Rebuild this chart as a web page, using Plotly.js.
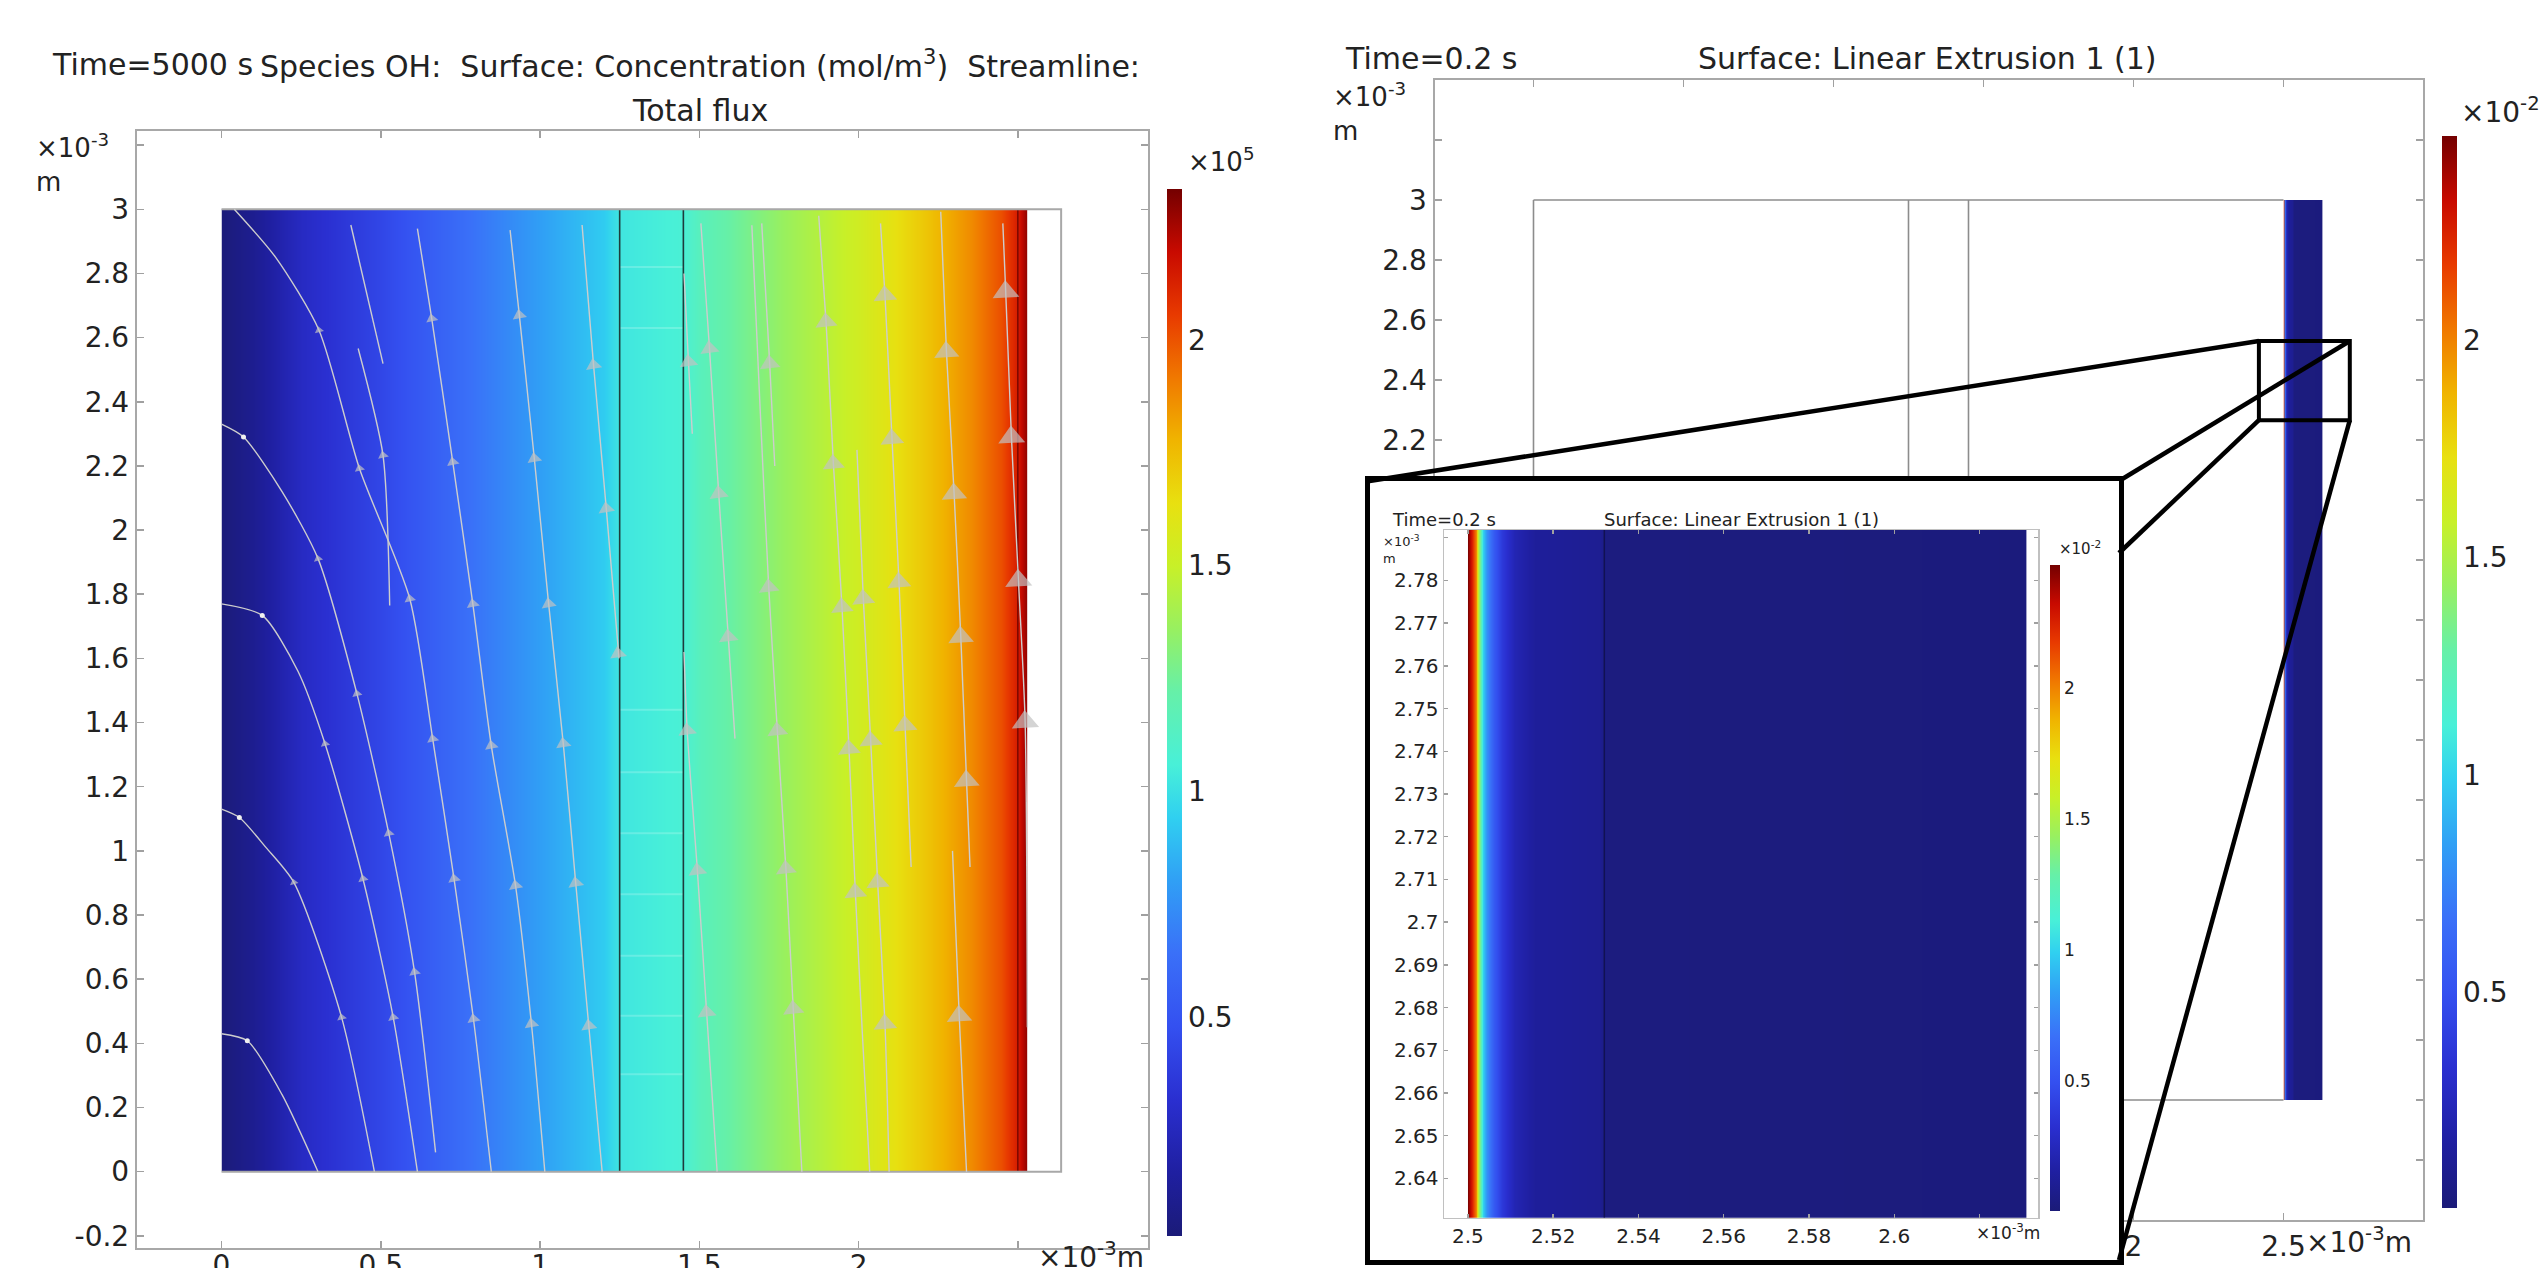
<!DOCTYPE html>
<html><head><meta charset="utf-8">
<script src="https://cdn.plot.ly/plotly-3.0.1.min.js"></script>
<style>html,body{margin:0;padding:0;background:#fff;overflow:hidden}#chart{width:2541px;height:1268px}</style>
</head><body><div id="chart"></div>
<script>
// ================= DATA =================
// Left plot: OH concentration profile across the cell (x in 1e-3 m, c in 1e5 mol/m^3)
const concX  = [0, 0.1, 0.25, 0.5, 0.75, 1.0, 1.2, 1.25, 1.45, 1.5, 1.75, 2.0, 2.2, 2.35, 2.45, 2.5, 2.53];
const concOH = [0.02, 0.10, 0.27, 0.43, 0.62, 0.80, 0.93, 1.02, 1.07, 1.15, 1.35, 1.53, 1.71, 1.87, 2.01, 2.14, 2.30];
const concY  = [0, 3];

// Streamlines of total flux (x, y in 1e-3 m)
const streamX = [
 [0.04, 0.17, 0.306, 0.433, 0.591, 0.663, 0.730, 0.791, 0.847],
 [0.406, 0.507],
 [0.429, 0.507, 0.528],
 [0.615, 0.660, 0.726, 0.789, 0.847, 0.923, 0.973, 1.015],
 [0.906, 0.935, 0.982, 1.027, 1.073, 1.112, 1.153, 1.195],
 [1.132, 1.168, 1.208, 1.248],
 [0.0, 0.069, 0.19, 0.303, 0.425, 0.525, 0.606, 0.672],
 [0.0, 0.128, 0.24, 0.325, 0.444, 0.539, 0.615],
 [0.0, 0.056, 0.14, 0.227, 0.377, 0.48],
 [0.0, 0.081, 0.19, 0.303],
 [1.452, 1.462, 1.494, 1.523, 1.556],
 [1.452, 1.466, 1.478],
 [1.505, 1.532, 1.561, 1.591, 1.612],
 [1.665, 1.69, 1.718, 1.745, 1.772, 1.795, 1.822],
 [1.696, 1.721, 1.737],
 [1.875, 1.898, 1.921, 1.948, 1.970, 1.990, 2.012, 2.035],
 [1.995, 2.015, 2.038, 2.060, 2.083, 2.096],
 [2.069, 2.083, 2.105, 2.127, 2.146, 2.165],
 [2.258, 2.276, 2.300, 2.321, 2.339, 2.350],
 [2.295, 2.316, 2.339],
 [2.453, 2.462, 2.480, 2.502, 2.523, 2.530]
];
const streamY = [
 [3.0, 2.85, 2.623, 2.192, 1.786, 1.349, 0.913, 0.476, 0.0],
 [2.951, 2.519],
 [2.566, 2.233, 1.765],
 [2.94, 2.659, 2.212, 1.770, 1.328, 0.892, 0.461, 0.0],
 [2.935, 2.670, 2.223, 1.770, 1.334, 0.900, 0.455, 0.0],
 [2.951, 2.514, 2.067, 1.60],
 [2.33, 2.29, 2.12, 1.911, 1.490, 1.055, 0.622, 0.06],
 [1.77, 1.734, 1.56, 1.334, 0.913, 0.481, 0.0],
 [1.13, 1.104, 1.01, 0.902, 0.481, 0.0],
 [0.43, 0.408, 0.24, 0.0],
 [1.62, 1.375, 0.939, 0.497, 0.0],
 [2.80, 2.524, 2.30],
 [2.956, 2.566, 2.114, 1.667, 1.35],
 [2.95, 2.4, 1.822, 1.375, 0.944, 0.507, 0.0],
 [2.956, 2.519, 2.2],
 [2.98, 2.649, 2.207, 1.760, 1.318, 0.871, 0.43, 0.0],
 [2.25, 1.786, 1.344, 0.902, 0.461, 0.0],
 [2.956, 2.732, 2.285, 1.838, 1.391, 0.95],
 [2.992, 2.556, 2.114, 1.667, 1.219, 0.95],
 [1.0, 0.486, 0.0],
 [2.956, 2.743, 2.290, 1.843, 1.402, 0.45]
];
// Arrow heads on streamlines
const arrowX = [0.306,0.660,0.935,1.168,1.466,1.532,1.721,1.898,2.083,2.276,2.462,
 0.433,0.507,0.726,0.982,1.208,1.561,1.921,2.105,2.300,2.480,
 0.303,0.591,0.789,1.027,1.245,1.591,1.718,1.948,2.015,2.127,2.321,2.502,
 0.425,0.325,0.663,0.847,1.073,1.462,1.745,1.970,2.038,2.146,2.523,2.339,
 0.525,0.227,0.444,0.730,0.923,1.112,1.494,1.772,1.990,2.060,
 0.606,0.377,0.539,0.791,0.973,1.153,1.523,1.795,2.083,2.316];
const arrowY = [2.623,2.659,2.670,2.514,2.524,2.566,2.519,2.649,2.732,2.556,2.743,
 2.192,2.233,2.212,2.223,2.067,2.114,2.207,2.285,2.114,2.290,
 1.911,1.786,1.770,1.770,1.615,1.667,1.822,1.760,1.786,1.838,1.667,1.843,
 1.490,1.334,1.349,1.328,1.334,1.375,1.375,1.318,1.344,1.391,1.402,1.219,
 1.055,0.902,0.913,0.913,0.892,0.900,0.939,0.944,0.871,0.902,
 0.622,0.481,0.481,0.476,0.461,0.455,0.497,0.507,0.461,0.486];
// Streamline seed points on the left wall
const seedX = [0.069, 0.128, 0.056, 0.081];
const seedY = [2.29, 1.734, 1.104, 0.408];
// Faint flux marks inside the membrane (1.25 - 1.45)
const membraneY = [2.82, 2.63, 1.44, 1.245, 1.055, 0.865, 0.673, 0.486, 0.304];
const membraneX = [1.25, 1.45];
const interfaceX = [1.25, 1.45];

// Right plot: Linear Extrusion 1 (1) profile (x in 1e-3 m, value in 1e-2)
const extX = [2.5, 2.501, 2.5018, 2.5024, 2.503, 2.5036, 2.5045, 2.506, 2.508, 2.511, 2.516, 2.531, 2.5325, 2.631];
const extV = [2.45, 2.25, 2.0, 1.55, 1.22, 1.0, 0.78, 0.55, 0.38, 0.22, 0.13, 0.10, 0.03, 0.02];
const extYMain  = [0, 3];
const extYInset = [2.6, 2.8];

// Tick labels
const leftXTicks  = [0, 0.5, 1, 1.5, 2, 2.5];
const leftXText   = ['0', '0.5', '1', '1.5', '2', ''];
const yTicks      = [-0.2, 0, 0.2, 0.4, 0.6, 0.8, 1, 1.2, 1.4, 1.6, 1.8, 2, 2.2, 2.4, 2.6, 2.8, 3, 3.2];
const yText       = ['-0.2','0','0.2','0.4','0.6','0.8','1','1.2','1.4','1.6','1.8','2','2.2','2.4','2.6','2.8','3',''];
// right plot: labels hidden behind the inset are left blank
const rightYText  = ['','','','','','','','','','','','','2.2','2.4','2.6','2.8','3',''];
const rightXTicks = [0, 0.5, 1, 1.5, 2, 2.5];
const rightXText  = ['', '', '', '', '2', '2.5'];
const insetXTicks = [2.5, 2.52, 2.54, 2.56, 2.58, 2.6, 2.62];
const insetXText  = ['2.5', '2.52', '2.54', '2.56', '2.58', '2.6', ''];
const insetYTicks = [2.64, 2.65, 2.66, 2.67, 2.68, 2.69, 2.7, 2.71, 2.72, 2.73, 2.74, 2.75, 2.76, 2.77, 2.78, 2.79];
const insetYText  = ['2.64','2.65','2.66','2.67','2.68','2.69','2.7','2.71','2.72','2.73','2.74','2.75','2.76','2.77','2.78',''];
const cbTicks = [0.5, 1, 1.5, 2];

// ================= STYLE / LAYOUT =================
const W = 2541, H = 1268;
const px = v => v / W;
const py = v => 1 - v / H;
const FONT = 'DejaVu Sans';

const rainbow = [
 [0.00,'#1b1b78'],[0.06,'#1f1fa0'],[0.13,'#2a2fd0'],[0.20,'#3450f0'],[0.27,'#3a70f8'],
 [0.34,'#30a0f5'],[0.40,'#30d0f0'],[0.45,'#48f0d8'],[0.52,'#66f0a8'],[0.58,'#98f060'],
 [0.64,'#c8f028'],[0.70,'#e8e010'],[0.76,'#f0b400'],[0.82,'#f07800'],[0.88,'#e83a00'],
 [0.94,'#c80a00'],[1.00,'#740000']
];

function joinLines(xs, ys) {
  const X = [], Y = [];
  xs.forEach((arr, i) => { arr.forEach((v, j) => { X.push(v); Y.push(ys[i][j]); }); X.push(null); Y.push(null); });
  return {X, Y};
}
const sl = joinLines(streamX, streamY);

const memX = [], memY = [];
membraneY.forEach(y => { memX.push(membraneX[0], membraneX[1], null); memY.push(y, y, null); });

const cbBase = (x, ytop, len, thick, size) => ({
  x: px(x), xanchor: 'left', y: py(ytop), yanchor: 'top',
  len: len, lenmode: 'pixels', thickness: thick, thicknessmode: 'pixels',
  outlinewidth: 0, xpad: 0, ypad: 0, tickvals: cbTicks, ticks: '',
  tickfont: {family: FONT, size: size, color: '#222'}
});

const traces = [];
// ---- left panel ----
traces.push({type: 'contour', x: concX, y: concY, z: concY.map(() => concOH),
  xaxis: 'x', yaxis: 'y', colorscale: rainbow, zmin: 0.014, zmax: 2.333, zauto: false,
  contours: {coloring: 'heatmap', showlines: false}, line: {width: 0}, hoverinfo: 'skip',
  colorbar: cbBase(1167, 189.5, 1046.5, 15, 28)});
traces.push({type: 'scatter', mode: 'lines', x: memX, y: memY, xaxis: 'x', yaxis: 'y',
  line: {color: 'rgba(255,255,255,0.2)', width: 2}, hoverinfo: 'skip'});
// geometry
traces.push({type: 'scatter', mode: 'lines', xaxis: 'x', yaxis: 'y', hoverinfo: 'skip',
  x: [interfaceX[0], interfaceX[0], null, interfaceX[1], interfaceX[1]], y: [0, 3, null, 0, 3],
  line: {color: '#1e3c3c', width: 1.6}});
traces.push({type: 'scatter', mode: 'lines', xaxis: 'x', yaxis: 'y', hoverinfo: 'skip',
  x: [2.5, 2.5], y: [0, 3], line: {color: 'rgba(90,0,0,0.7)', width: 1.6}});
traces.push({type: 'scatter', mode: 'lines', xaxis: 'x', yaxis: 'y', hoverinfo: 'skip',
  x: [0, 2.636, 2.636, 0], y: [0, 0, 3, 3], line: {color: '#a8a8a8', width: 2}});
// streamlines
traces.push({type: 'scatter', mode: 'lines', x: sl.X, y: sl.Y, xaxis: 'x', yaxis: 'y',
  line: {color: '#cdcdcd', width: 1.4, shape: 'spline', smoothing: 0.7}, connectgaps: false, hoverinfo: 'skip'});
traces.push({type: 'scatter', mode: 'markers', x: arrowX, y: arrowY, xaxis: 'x', yaxis: 'y', hoverinfo: 'skip',
  marker: {symbol: 'triangle-up', color: '#c2c2c2', line: {width: 0},
    size: arrowX.map(x => 6 + 7 * x), angle: arrowX.map(x => -Math.max(3, 15 - 5 * x))}});
traces.push({type: 'scatter', mode: 'markers', x: seedX, y: seedY, xaxis: 'x', yaxis: 'y', hoverinfo: 'skip',
  marker: {size: 5, color: '#f0f0f0'}});

// ---- right panel ----
traces.push({type: 'contour', x: extX, y: extYMain, z: extYMain.map(() => extV),
  xaxis: 'x2', yaxis: 'y2', colorscale: rainbow, zmin: 0.004, zmax: 2.47, zauto: false,
  contours: {coloring: 'heatmap', showlines: false}, line: {width: 0}, hoverinfo: 'skip',
  colorbar: cbBase(2441.7, 136, 1072, 15, 28)});
traces.push({type: 'scatter', mode: 'lines', xaxis: 'x2', yaxis: 'y2', hoverinfo: 'skip',
  x: [0, 2.5, null, 0, 0, null, interfaceX[0], interfaceX[0], null, interfaceX[1], interfaceX[1], null, 0, 2.5],
  y: [3, 3, null, 0, 3, null, 0, 3, null, 0, 3, null, 0, 0],
  line: {color: '#8c8c8c', width: 1.6}});

// ---- inset: white card ----
traces.push({type: 'scatter', mode: 'lines', xaxis: 'x3', yaxis: 'y3', hoverinfo: 'skip',
  x: [-0.1, 1.1, 1.1, -0.1, -0.1], y: [-0.1, -0.1, 1.1, 1.1, -0.1], fill: 'toself',
  fillcolor: '#ffffff', line: {width: 0}});
// ---- inset plot ----
traces.push({type: 'contour', x: extX, y: extYInset, z: extYInset.map(() => extV),
  xaxis: 'x4', yaxis: 'y4', colorscale: rainbow, zmin: 0.004, zmax: 2.47, zauto: false,
  contours: {coloring: 'heatmap', showlines: false}, line: {width: 0}, hoverinfo: 'skip',
  colorbar: cbBase(2050.3, 565.4, 646, 10, 17)});
traces.push({type: 'scatter', mode: 'lines', xaxis: 'x4', yaxis: 'y4', hoverinfo: 'skip',
  x: [extX[12] - 0.0005, extX[12] - 0.0005], y: extYInset, line: {color: 'rgba(10,10,50,0.6)', width: 1.5}});

const axBase = (size) => ({
  showgrid: false, zeroline: false, showline: true, linecolor: '#a8a8a8', linewidth: 2,
  mirror: 'ticks', ticks: 'inside', ticklen: 7, tickcolor: '#a0a0a0', tickwidth: 1.5,
  tickfont: {family: FONT, size: size, color: '#222'}, fixedrange: true
});

const layout = {
  width: W, height: H, margin: {l: 0, r: 0, t: 0, b: 0},
  paper_bgcolor: '#ffffff', plot_bgcolor: 'rgba(0,0,0,0)', showlegend: false,
  font: {family: FONT, color: '#222'},
  xaxis: Object.assign(axBase(28), {domain: [px(136.8), px(1148.4)], range: [-0.266, 2.910], anchor: 'y',
    tickmode: 'array', tickvals: leftXTicks, ticktext: leftXText, ticklabelstandoff: -8}),
  yaxis: Object.assign(axBase(28), {domain: [py(1247.7), py(131)], range: [-0.237, 3.244], anchor: 'x',
    tickmode: 'array', tickvals: yTicks, ticktext: yText}),
  xaxis2: Object.assign(axBase(28), {domain: [px(1434.5), px(2423)], range: [-0.33, 2.965], anchor: 'y2',
    tickmode: 'array', tickvals: rightXTicks, ticktext: rightXText}),
  yaxis2: Object.assign(axBase(28), {domain: [py(1220), py(80)], range: [-0.40, 3.40], anchor: 'x2',
    tickmode: 'array', tickvals: yTicks, ticktext: rightYText}),
  xaxis3: {domain: [px(1369.6), px(2119)], range: [0, 1], anchor: 'y3', showgrid: false, zeroline: false,
    showline: true, mirror: true, linecolor: '#000', linewidth: 5, ticks: '', showticklabels: false, fixedrange: true},
  yaxis3: {domain: [py(1260), py(481)], range: [0, 1], anchor: 'x3', showgrid: false, zeroline: false,
    showline: true, mirror: true, linecolor: '#000', linewidth: 5, ticks: '', showticklabels: false, fixedrange: true},
  xaxis4: Object.assign(axBase(20), {domain: [px(1444), px(2038.4)], range: [2.4944, 2.6338], anchor: 'y4',
    tickmode: 'array', tickvals: insetXTicks, ticktext: insetXText, ticklen: 4, linewidth: 1.5, linecolor: '#c0c0c0'}),
  yaxis4: Object.assign(axBase(20), {domain: [py(1217.7), py(530)], range: [2.6308, 2.7918], anchor: 'x4',
    tickmode: 'array', tickvals: insetYTicks, ticktext: insetYText, ticklen: 4, linewidth: 1.5, linecolor: '#c0c0c0'}),
  shapes: [],
  annotations: []
};

// zoom box (in right-plot data units) and connector lines
const zoomBox = {x0: 2.418, x1: 2.721, y0: 2.266, y1: 2.53};
layout.shapes.push({type: 'rect', xref: 'x2', yref: 'y2', x0: zoomBox.x0, x1: zoomBox.x1, y0: zoomBox.y0, y1: zoomBox.y1,
  line: {color: '#000', width: 4}, layer: 'above'});
const x2px = x => 1434.5 + (x + 0.33) / 3.295 * 988.5;
const y2px = y => 80 + (3.40 - y) / 3.80 * 1140;
const conn = (ax, ay, bx, by) => ({type: 'line', xref: 'paper', yref: 'paper', x0: px(ax), y0: py(ay), x1: px(bx), y1: py(by),
  line: {color: '#000', width: 4.5}, layer: 'above'});
layout.shapes.push(conn(x2px(zoomBox.x0), y2px(zoomBox.y1), 1369.6, 481));
layout.shapes.push(conn(x2px(zoomBox.x1), y2px(zoomBox.y1), 2119, 481));
layout.shapes.push(conn(x2px(zoomBox.x0), y2px(zoomBox.y0), 2119, 553));
layout.shapes.push(conn(x2px(zoomBox.x1), y2px(zoomBox.y0), 2119, 1260));

const ann = (text, x, y, size, anchor) => ({text: text, xref: 'paper', yref: 'paper', x: px(x), y: py(y),
  xanchor: anchor || 'left', yanchor: 'middle', align: 'left', showarrow: false, borderpad: 0,
  font: {family: FONT, size: size, color: '#222'}});
const sp = '\u00a0';
layout.annotations.push(
  ann('Time=5000 s', 51, 64, 30),
  ann('Species OH:' + sp + sp + 'Surface: Concentration (mol/m<sup>3</sup>)' + sp + sp + 'Streamline:', 700, 64, 30, 'center'),
  ann('Total flux', 700, 110, 30, 'center'),
  ann('×10<sup>-3</sup><br>m', 35, 163, 26),
  ann('×10<sup>5</sup>', 1187, 160, 26),
  ann('×10<sup>-3</sup>m', 1037, 1255, 28),
  ann('Time=0.2 s', 1343.5, 58, 30),
  ann('Surface: Linear Extrusion 1 (1)', 1927, 58, 30, 'center'),
  ann('×10<sup>-3</sup><br>m', 1332, 112, 26),
  ann('×10<sup>-2</sup>', 2460, 110, 28),
  ann('×10<sup>-3</sup>m', 2305, 1240, 28),
  ann('Time=0.2 s', 1391, 519, 18),
  ann('Surface: Linear Extrusion 1 (1)', 1741, 519, 18, 'center'),
  ann('×10<sup>-3</sup><br>m', 1382, 549, 13),
  ann('×10<sup>-2</sup>', 2058, 548, 15),
  ann('×10<sup>-3</sup>m', 1975, 1232, 17)
);

Plotly.newPlot('chart', traces, layout, {displayModeBar: false, staticPlot: true});
</script>
</body></html>
